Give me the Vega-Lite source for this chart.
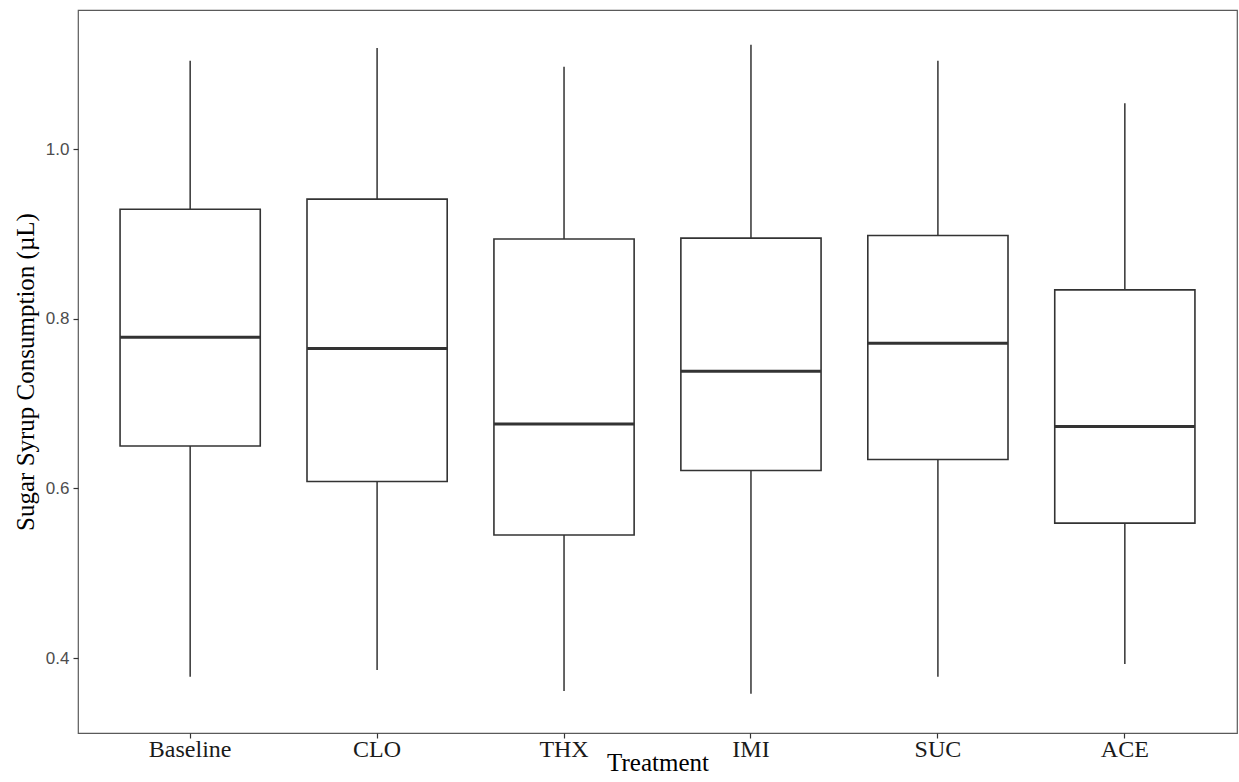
{
  "$schema": "https://vega.github.io/schema/vega-lite/v6.json",
  "width": 1159,
  "height": 723,
  "autosize": {"type": "none"},
  "padding": {"left": 78, "top": 10, "right": 2, "bottom": 49},
  "background": "white",
  "config": {
    "view": {"stroke": "#5a5a5a", "strokeWidth": 1.2},
    "axis": {"grid": false, "domain": false}
  },
  "data": {
    "values": [
      {"treatment": "Baseline", "low": 0.378, "q1": 0.650, "median": 0.778, "q3": 0.929, "high": 1.104},
      {"treatment": "CLO", "low": 0.386, "q1": 0.608, "median": 0.765, "q3": 0.941, "high": 1.119},
      {"treatment": "THX", "low": 0.361, "q1": 0.545, "median": 0.676, "q3": 0.894, "high": 1.097},
      {"treatment": "IMI", "low": 0.358, "q1": 0.621, "median": 0.738, "q3": 0.895, "high": 1.123},
      {"treatment": "SUC", "low": 0.378, "q1": 0.634, "median": 0.771, "q3": 0.898, "high": 1.104},
      {"treatment": "ACE", "low": 0.393, "q1": 0.559, "median": 0.673, "q3": 0.834, "high": 1.054}
    ]
  },
  "encoding": {
    "x": {
      "field": "treatment",
      "type": "nominal",
      "sort": null,
      "scale": {"paddingInner": 0, "paddingOuter": 0.1},
      "axis": {
        "title": "Treatment",
        "titleFont": "Liberation Serif",
        "titleFontSize": 25,
        "titleFontWeight": "normal",
        "titleColor": "#000000",
        "titleBaseline": "alphabetic",
        "titleY": 37,
        "labelFont": "Liberation Serif",
        "labelFontSize": 24,
        "labelColor": "#1a1a1a",
        "labelAngle": 0,
        "labelBaseline": "alphabetic",
        "labelPadding": 18,
        "tickSize": 5,
        "tickColor": "#333333",
        "tickWidth": 1.2
      }
    }
  },
  "layer": [
    {
      "mark": {"type": "rule", "color": "#333333", "strokeWidth": 1.5},
      "encoding": {
        "y": {
          "field": "low",
          "type": "quantitative",
          "scale": {"domain": [0.3116, 1.1639], "nice": false, "zero": false},
          "axis": {
            "title": "Sugar Syrup Consumption (µL)",
            "titleFont": "Liberation Serif",
            "titleFontSize": 25,
            "titleFontWeight": "normal",
            "titleColor": "#000000",
            "titleBaseline": "alphabetic",
            "titleX": -45,
            "values": [0.4, 0.6, 0.8, 1.0],
            "format": ".1f",
            "labelFont": "Liberation Sans",
            "labelFontSize": 17,
            "labelColor": "#4d4d4d",
            "labelPadding": 4,
            "tickSize": 5,
            "tickColor": "#333333",
            "tickWidth": 1.2
          }
        },
        "y2": {"field": "high"}
      }
    },
    {
      "mark": {"type": "bar", "fill": "white", "stroke": "#333333", "strokeWidth": 1.6, "width": {"band": 0.75}},
      "encoding": {
        "y": {"field": "q1", "type": "quantitative"},
        "y2": {"field": "q3"}
      }
    },
    {
      "mark": {"type": "tick", "color": "#333333", "size": 140, "thickness": 3, "opacity": 1},
      "encoding": {
        "y": {"field": "median", "type": "quantitative"}
      }
    }
  ]
}
